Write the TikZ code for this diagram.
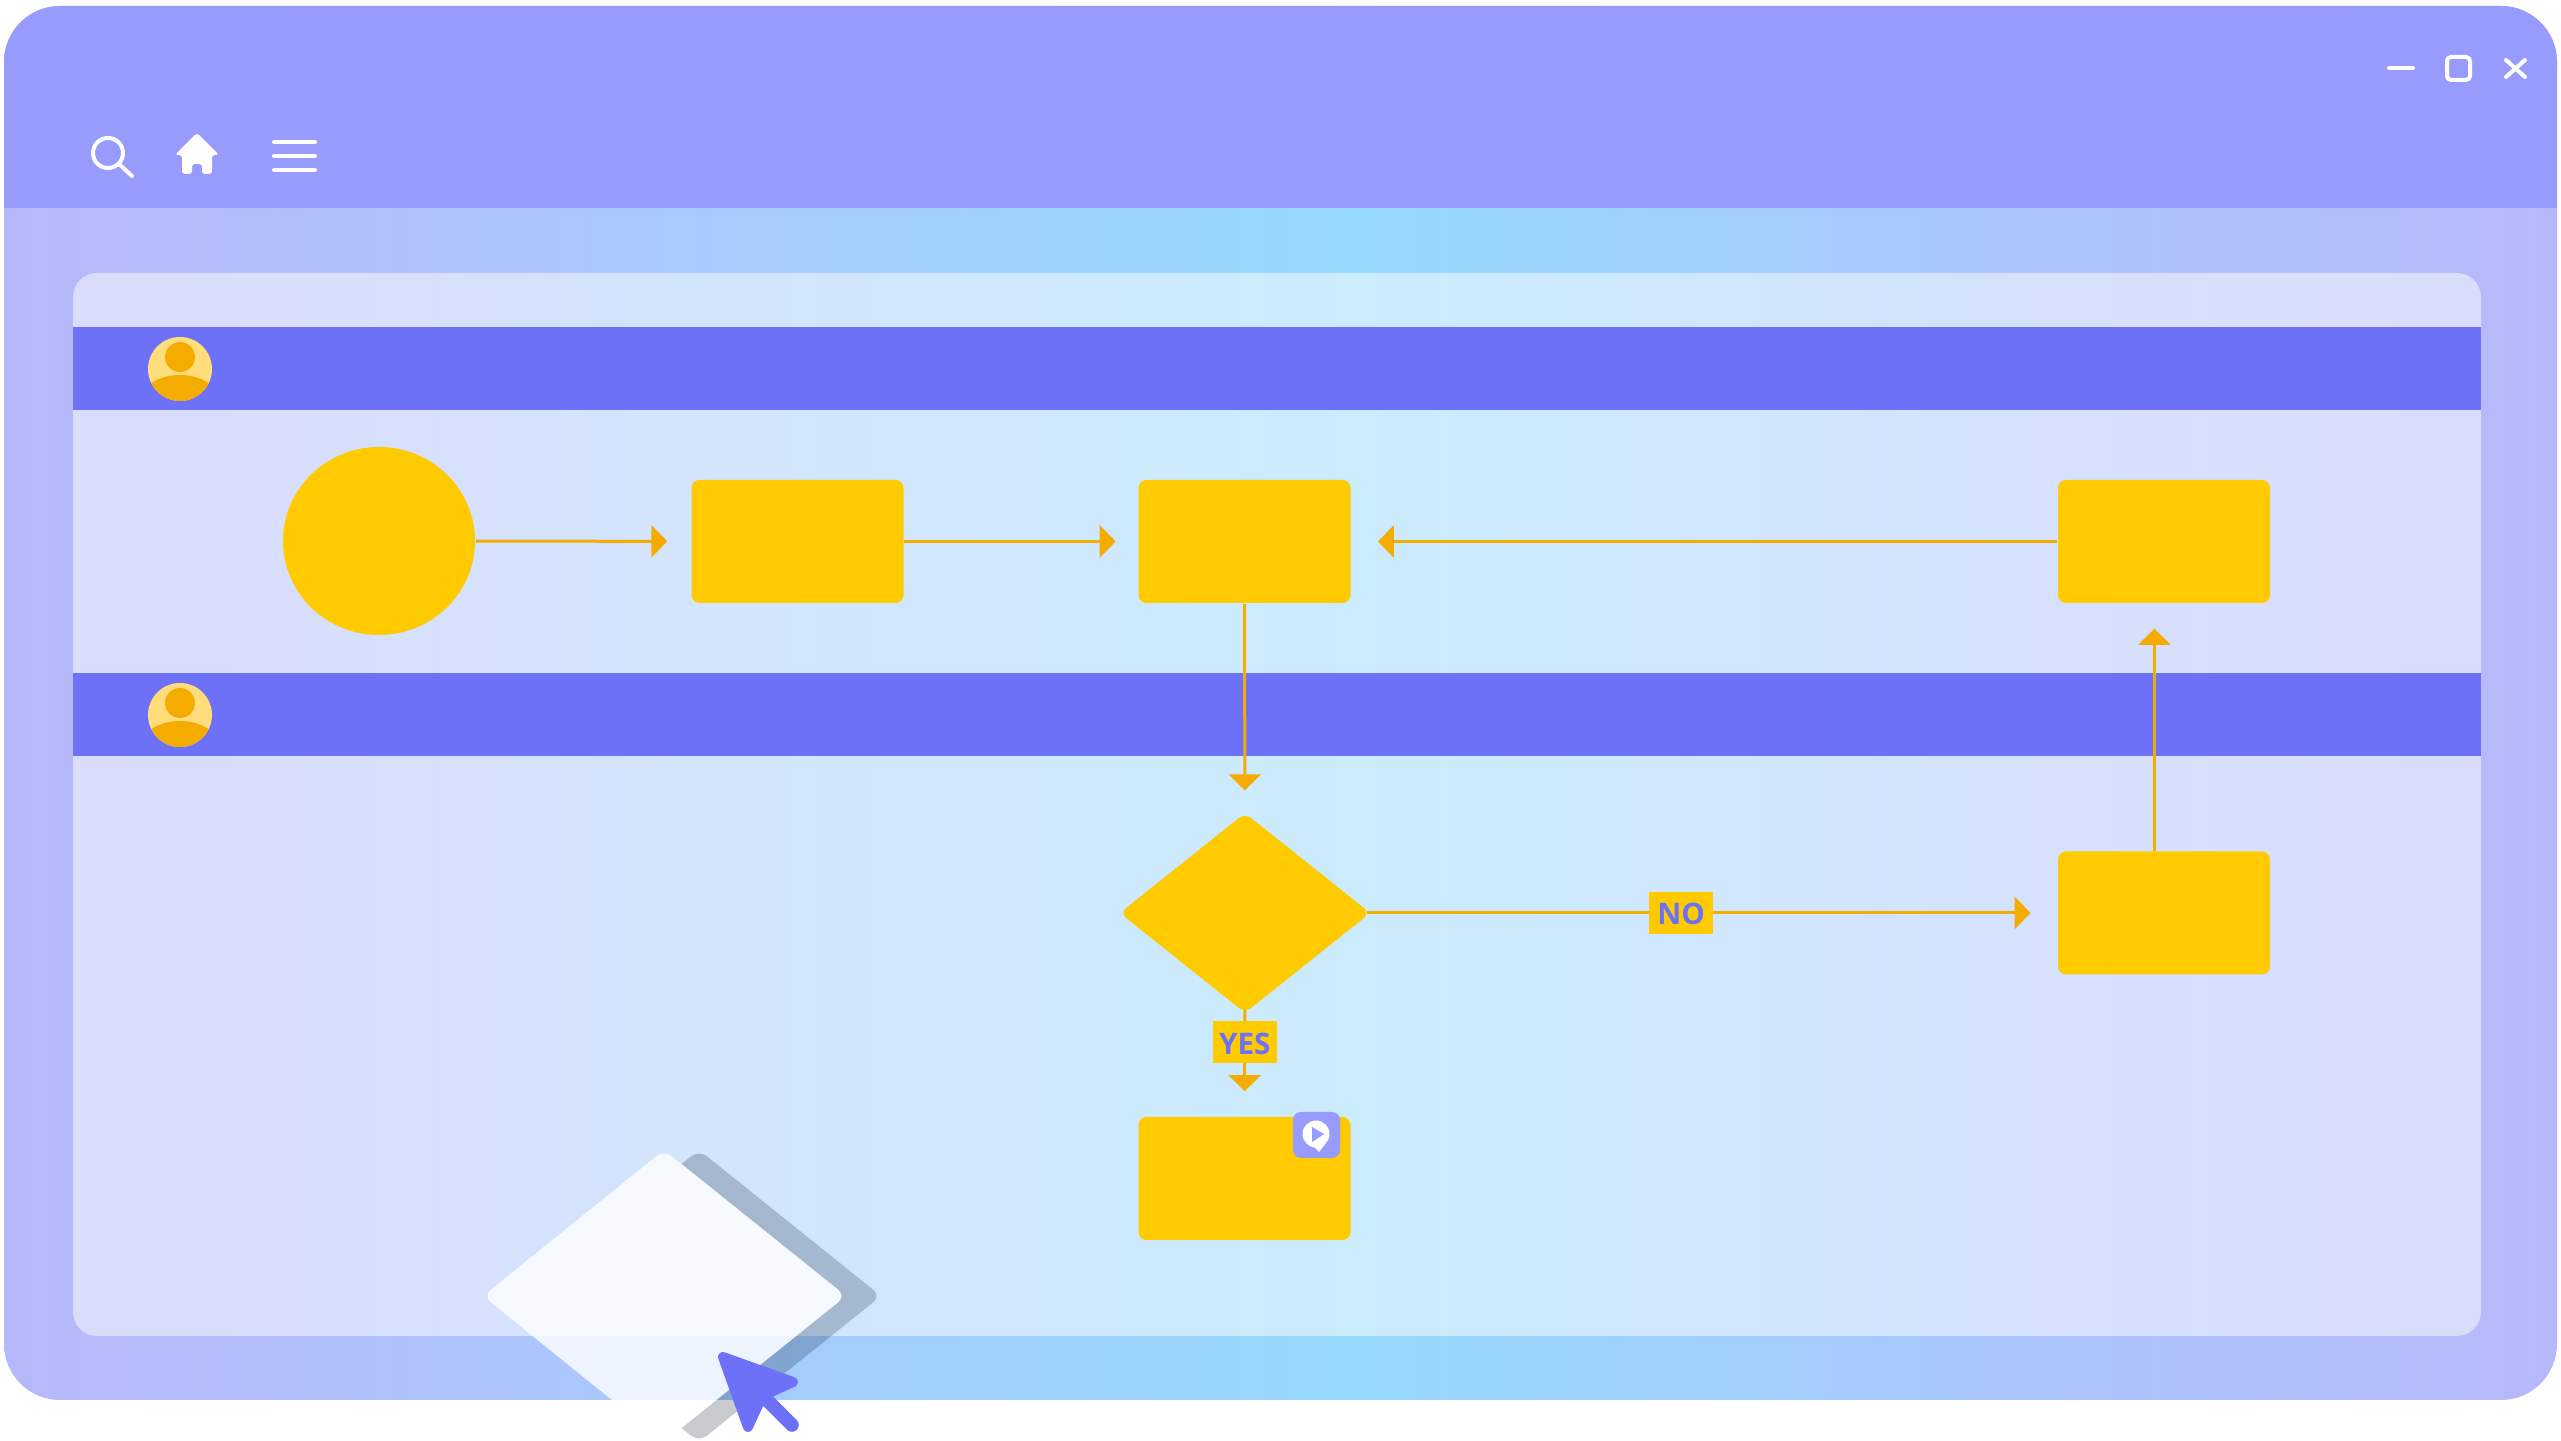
\documentclass[tikz,border=0pt]{standalone}
\usepackage{fontspec}
\setmainfont{Open Sans}
\usetikzlibrary{arrows.meta,shapes.geometric}
\definecolor{barpurple}{HTML}{979BFD}
\definecolor{bandblue}{HTML}{6C71F8}
\definecolor{boxyellow}{HTML}{FFCB00}
\definecolor{lineorange}{HTML}{F4AC00}
\definecolor{facecream}{HTML}{FFDD7A}
\definecolor{ghostgrey}{HTML}{05172D}
\definecolor{wina}{HTML}{B6B8FA}
\definecolor{winb}{HTML}{B3BDFA}
\definecolor{winc}{HTML}{A9C9FC}
\definecolor{wind}{HTML}{9FD2FC}
\definecolor{wine}{HTML}{96D9FB}
\definecolor{winf}{HTML}{A2CFFC}
\definecolor{wing}{HTML}{ABC4FB}
\pgfdeclarehorizontalshading{wingrad}{100bp}{
  color(0bp)=(wina); color(25bp)=(wina); color(30bp)=(winb); color(37.5bp)=(winc); color(45bp)=(wind);
  color(51.5bp)=(wine); color(59bp)=(winf); color(65bp)=(wing); color(71.5bp)=(winb); color(75bp)=(wina); color(100bp)=(wina)}
\tikzset{
  flowbox/.style={fill=boxyellow,rounded corners=2pt,inner sep=0pt,minimum width=53pt,minimum height=30.75pt},
  flowdiamond/.style={diamond,fill=boxyellow,rounded corners=2pt,inner sep=0pt,aspect=1.25,minimum width=62.75pt,minimum height=50.1pt},
  band/.style={fill=bandblue,inner sep=0pt,minimum width=602pt,minimum height=20.75pt},
  flowline/.style={draw=lineorange,line width=.75pt,-{Triangle[length=4pt,width=8pt]},shorten >=6.25pt},
  flowlabel/.style={fill=boxyellow,text=bandblue,inner sep=0pt,minimum width=16pt,minimum height=10.5pt,text height=6pt,text depth=0pt,font=\bfseries\fontsize{7.4}{8}\selectfont},
  icon/.style={draw=white,line width=1pt,line cap=round,line join=round}
}
\begin{document}
\begin{tikzpicture}[x=0.25pt,y=-0.25pt]
  \useasboundingbox (0,0) rectangle (2561,1441);
  % window
  \path [shading=wingrad,rounded corners=14pt] (4,6) rectangle (2557,1400);
  \fill [barpurple] (4,208) [rounded corners=14pt] -- (4,6) -- (2557,6) [sharp corners] -- (2557,208) -- cycle;
  \fill [white,opacity=.5,rounded corners=6pt] (73,273) rectangle (2481,1336);
  % toolbar
  \draw [icon] (108,153) circle (15);
  \draw [icon] (120,165) -- (132,176);
  \fill [white,rounded corners=.7pt] (197,133) -- (219,155) -- (212,155) -- (212,174) -- (202,174) -- (202,164) -- (192,164) -- (192,174) -- (182,174) -- (182,155) -- (175,155) -- cycle;
  \draw [icon] (274,142) -- (315,142);
  \draw [icon] (274,156) -- (315,156);
  \draw [icon] (274,170) -- (315,170);
  \draw [icon] (2389,68) -- (2413,68);
  \draw [icon,rounded corners=1pt] (2447,57) rectangle (2470,80);
  \draw [icon] (2506,60) -- (2525,77);
  \draw [icon] (2525,60) -- (2506,77);
  % lanes
  \node [band] (lane1) at (1277,369) {};
  \node [band] (lane2) at (1277,715) {};
  \node [circle,fill=facecream,inner sep=0pt,minimum size=16pt] (face1) at (180,369) {};
  \begin{scope}
    \clip (180,369) circle (32);
    \fill [lineorange] (180,405) ellipse (42 and 30);
  \end{scope}
  \fill [lineorange] (180,357) circle (15);
  \node [circle,fill=facecream,inner sep=0pt,minimum size=16pt] (face2) at (180,715) {};
  \begin{scope}
    \clip (180,715) circle (32);
    \fill [lineorange] (180,751) ellipse (42 and 30);
  \end{scope}
  \fill [lineorange] (180,703) circle (15);
  % flow
  \node [ellipse,fill=boxyellow,inner sep=0pt,minimum width=48pt,minimum height=47pt] (start) at (379,541) {};
  \node [flowbox] (b1) at (797.5,541.5) {};
  \node [flowbox] (b2) at (1244.5,541.5) {};
  \node [flowbox] (b3) at (2164,541.5) {};
  \node [flowbox] (b4) at (2164,913) {};
  \node [flowbox] (b5) at (1244.5,1178.5) {};
  \node [flowdiamond] (d) at (1245,913) {};
  \draw [flowline,shorten >=5.85pt] (start) -- (b1);
  \draw [flowline,shorten >=5.5pt] (b1) -- (b2);
  \draw [flowline,shorten >=6.65pt] (b3) -- (b2);
  \draw [flowline,shorten >=5.45pt] (b2) -- (d);
  \draw [flowline,shorten >=6.65pt,shorten <=-1pt] (d) -- node [flowlabel,pos=.4516] (no) {NO} (b4);
  \draw [flowline,shorten <=-1pt] (d) -- node [flowlabel,pos=.276] (yes) {YES} (b5);
  \draw [flowline] ([xshift=-2.4pt]b4.north) -- ([xshift=-2.4pt]b3.south);
  % play badge
  \node [fill=barpurple,rounded corners=2pt,inner sep=0pt,minimum width=11.75pt,minimum height=11.5pt] (badge) at (1316.5,1135) {};
  \fill [white] (1316,1134) circle (13.5);
  \fill [white] (1311,1144) -- (1319,1152) -- (1326,1143) -- cycle;
  \fill [barpurple] (1312,1127) -- (1324,1134) -- (1312,1142) -- cycle;
  % dragged shape
  \fill [ghostgrey,opacity=.22] (681.5,1164) [rounded corners=2.5pt] -- (699,1150) -- (881,1296) -- (699,1442) [sharp corners] -- (681.5,1428) [rounded corners=2.5pt] -- (846,1296) [sharp corners] -- cycle;
  \fill [white,opacity=.8,rounded corners=2.5pt] (664,1150) -- (846,1296) -- (664,1442) -- (483,1296) -- cycle;
  % cursor
  \draw [bandblue,line width=3.4pt,line cap=round] (768,1401) -- (792,1425);
  \filldraw [bandblue,line width=2.5pt,line join=round] (723,1357) -- (793,1382) -- (771,1392) -- (759,1403) -- (748,1427) -- cycle;
\end{tikzpicture}
\end{document}
